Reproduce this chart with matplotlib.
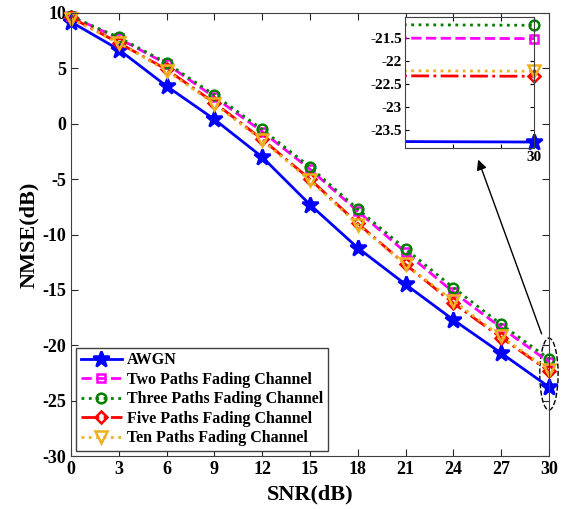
import numpy as np
import matplotlib
matplotlib.use('Agg')
import matplotlib.pyplot as plt
from matplotlib.patches import Ellipse

plt.rcParams['font.family'] = ['Liberation Serif', 'DejaVu Serif']
plt.rcParams['font.weight'] = 'bold'
plt.rcParams['axes.unicode_minus'] = False

# 數據
snr = [0, 3, 6, 9, 12, 15, 18, 21, 24, 27, 30]
awgn = [9.2, 6.7, 3.4, 0.4, -3.0, -7.3, -11.2, -14.5, -17.7, -20.7, -23.76]
two_paths = [9.7, 7.7, 5.4, 2.4, -0.7, -4.1, -7.9, -11.6, -15.2, -18.4, -21.51]
three_paths = [9.7, 7.8, 5.5, 2.6, -0.5, -3.9, -7.7, -11.3, -14.8, -18.1, -21.22]
five_paths = [9.6, 7.3, 4.9, 1.9, -1.4, -5.0, -9.0, -12.7, -16.2, -19.3, -22.33]
ten_paths = [9.5, 7.3, 4.8, 1.8, -1.5, -5.1, -9.1, -12.7, -16.0, -19.2, -22.22]
labels = ['AWGN', 'Two Paths Fading Channel', 'Three Paths Fading Channel',
          'Five Paths Fading Channel', 'Ten Paths Fading Channel']

orange = '#EDB120'
styles = [
    dict(color='blue', ls='-', marker='*', ms=12, mfc='blue'),
    dict(color='magenta', ls='--', marker='s', ms=6, mfc='none'),
    dict(color='green', ls=':', marker='o', ms=7, mfc='none'),
    dict(color='red', ls='-.', marker='D', ms=6, mfc='none'),
    dict(color=orange, ls=':', marker='v', ms=8.5, mfc='none'),
]
series = [awgn, two_paths, three_paths, five_paths, ten_paths]

fig = plt.figure(figsize=(5.63, 5.09), dpi=100)
ax = fig.add_axes([0.126, 0.104, 0.849, 0.8705])

for y, st, lab in zip(series, styles, labels):
    ax.plot(snr, y, lw=2, mew=1.8, label=lab, clip_on=False, **st)

ax.set_xlim(0, 30)
ax.set_ylim(-30, 10)
ax.set_xticks(snr)
ax.set_yticks(np.arange(-30, 11, 5))
ax.tick_params(direction='in', top=True, right=True, labelsize=13, length=5, color='#262626')
for s in ax.spines.values():
    s.set_color('#404040')
ax.set_xlabel('SNR(dB)', fontsize=16, fontweight='bold', labelpad=5)
ax.set_ylabel('NMSE(dB)', fontsize=16, fontweight='bold', labelpad=2)

leg = ax.legend(loc='lower left', fontsize=11.5, fancybox=False, framealpha=1,
                edgecolor='#404040', handlelength=2.6, borderaxespad=0.3,
                borderpad=0.3, labelspacing=0.22, handletextpad=0.3)
leg.get_frame().set_linewidth(1.0)

# 放大區域橢圓
ell = Ellipse((30, -22.6), 1.15, 6.5, fill=False, ls='--', lw=1, ec='black', clip_on=False)
ax.add_patch(ell)
ax.annotate('', xy=(25.5, -3.0), xytext=(29.6, -19.2),
            arrowprops=dict(arrowstyle='-|>', color='black', lw=1, mutation_scale=15))

# 小圖
ins = fig.add_axes([0.719, 0.7092, 0.2295, 0.2574])
for y, st in zip(series, styles):
    line_st = {k: v for k, v in st.items() if k in ('color', 'ls')}
    ins.plot(snr, y, lw=2, **line_st)
    ins.plot(snr[-1:], y[-1:], lw=0, mew=1.8, clip_on=False, color=st['color'],
             marker=st['marker'], ms=st['ms'], mfc=st['mfc'])
ins.set_xlim(29.99, 30)
ins.set_ylim(-23.89, -21.04)
ins.set_xticks([29.99 + 0.01 * 0.372, 29.99 + 0.01 * 0.744, 30])
ins.set_xticklabels(['', '', '30'])
ins.set_yticks([-23.5, -23, -22.5, -22, -21.5])
ins.set_yticklabels(['-23.5', '-23', '-22.5', '-22', '-21.5'])
ins.tick_params(direction='in', top=True, right=True, labelsize=11, length=3, pad=2)
for s in ins.spines.values():
    s.set_color('#404040')

fig.savefig('out.png', dpi=100)
